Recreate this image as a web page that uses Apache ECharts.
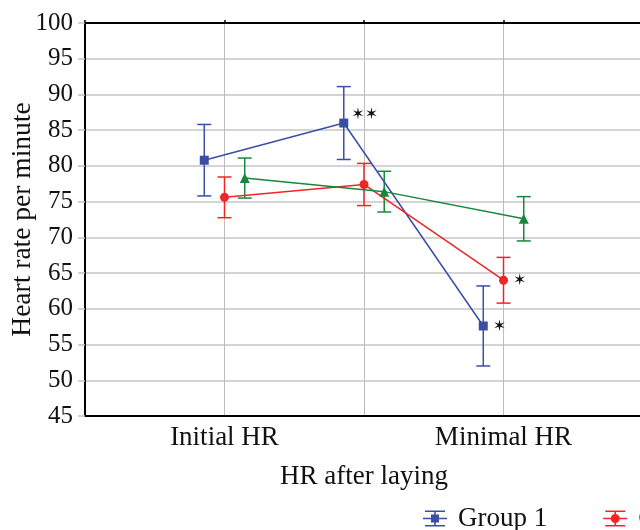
<!DOCTYPE html>
<html>
<head>
<meta charset="utf-8">
<script src="https://cdn.jsdelivr.net/npm/echarts@6/dist/echarts.min.js"></script>
<style>html,body{margin:0;padding:0;background:#fff;}#c{width:640px;height:530px;}</style>
</head>
<body>
<div id="c"></div>
<script>
var categories = ['Initial HR', 'HR after laying', 'Minimal HR'];
var groupNames = ['Group 1', 'Group 2', 'Group 3'];
var group1Mean = [80.8, 86.0, 57.6];
var group1Err  = [5.0, 5.1, 5.6];
var group2Mean = [75.6, 77.4, 64.0];
var group2Err  = [2.85, 2.95, 3.2];
var group3Mean = [78.3, 76.4, 72.6];
var group3Err  = [2.8, 2.85, 3.1];
var group1Marks = ['', '**', '*'];
var group2Marks = ['', '', '*'];
var group3Marks = ['', '', ''];
var yTicks = [45, 50, 55, 60, 65, 70, 75, 80, 85, 90, 95, 100];

var FONT = 'Liberation Serif';
var colors = ['#3a4ea6', '#ee2626', '#17873f'];
var symbols = ['rect', 'circle', 'triangle'];
var offsets = [-0.145, 0, 0.145];
var means = [group1Mean, group2Mean, group3Mean];
var errs = [group1Err, group2Err, group3Err];
var marks = [group1Marks, group2Marks, group3Marks];

function rectPath(x0, y0, x1, y1) {
  return 'M' + x0 + ' ' + y0 + 'L' + x1 + ' ' + y0 + 'L' + x1 + ' ' + y1 + 'L' + x0 + ' ' + y1 + 'Z';
}
var baseIcon = rectPath(0, 7.2, 24, 8.8) + rectPath(2, 0, 22, 1.5) + rectPath(2, 14.5, 22, 16) + rectPath(11.2, 0, 12.8, 16);
var icons = [
  'path://' + baseIcon + rectPath(8, 4, 16, 12),
  'path://' + baseIcon + 'M16.5 8A4.5 4.5 0 1 1 7.5 8A4.5 4.5 0 1 1 16.5 8Z',
  'path://' + baseIcon + 'M12 3L16.5 11.5L7.5 11.5Z'
];

var series = [];
for (var g = 0; g < 3; g++) {
  (function (g) {
    var lineData = [], errData = [];
    for (var i = 0; i < categories.length; i++) {
      var x = i + 1 + offsets[g];
      var m = marks[g][i];
      var item = { value: [x, means[g][i]] };
      if (m) {
        item.label = {
          show: true, position: 'right', distance: m.length > 1 ? 3 : 5,
          offset: m.length > 1 ? [0, -8] : [0, 1],
          formatter: m.replace(/\*/g, '\u2736'),
          fontFamily: 'DejaVu Sans', fontSize: 16, color: '#111'
        };
      }
      lineData.push(item);
      errData.push([x, means[g][i] - errs[g][i], means[g][i] + errs[g][i]]);
    }
    series.push({
      name: groupNames[g], type: 'custom', xAxisIndex: 0, yAxisIndex: 0, z: 3,
      data: errData, encode: { x: 0, y: [1, 2] },
      renderItem: function (params, api) {
        var x = api.value(0);
        var lo = api.coord([x, api.value(1)]);
        var hi = api.coord([x, api.value(2)]);
        var hw = 7;
        var st = { stroke: colors[g], lineWidth: 1.5 };
        return {
          type: 'group', children: [
            { type: 'line', shape: { x1: lo[0], y1: lo[1], x2: hi[0], y2: hi[1] }, style: st },
            { type: 'line', shape: { x1: hi[0] - hw, y1: hi[1], x2: hi[0] + hw, y2: hi[1] }, style: st },
            { type: 'line', shape: { x1: lo[0] - hw, y1: lo[1], x2: lo[0] + hw, y2: lo[1] }, style: st }
          ]
        };
      }
    });
    series.push({
      name: groupNames[g], type: 'line', z: 4,
      data: lineData,
      symbol: symbols[g], symbolSize: g === 2 ? 10 : 9,
      showSymbol: true,
      lineStyle: { color: colors[g], width: 1.5 },
      itemStyle: { color: colors[g] },
      label: { show: false },
      animation: false
    });
  })(g);
}

var chart = echarts.init(document.getElementById('c'));
chart.setOption({
  animation: false,
  backgroundColor: '#fff',
  grid: { left: 85, right: -3, top: 23, bottom: 114, containLabel: false, outerBoundsMode: 'none' },
  legend: {
    left: 418, top: 500, width: 900, itemWidth: 24, itemHeight: 16, itemGap: 56,
    textStyle: { fontFamily: FONT, fontSize: 27, color: '#111', padding: [0, 0, 0, 6] },
    data: groupNames.map(function (n, i) { return { name: n, icon: icons[i], itemStyle: { color: colors[i] } }; })
  },
  xAxis: [{
    type: 'value', min: 0, max: 4, interval: 1, position: 'bottom',
    axisLine: { show: true, onZero: false, lineStyle: { color: '#000', width: 2 } },
    axisTick: { show: false },
    splitLine: { show: true, lineStyle: { color: '#bcbcbc', width: 1 } },
    axisLabel: {
      margin: 2, fontFamily: FONT, fontSize: 27, color: '#111', lineHeight: 39,
      formatter: function (v) {
        var i = Math.round(v) - 1;
        if (i < 0 || i >= categories.length) return '';
        return (i % 2 === 1 ? '\n' : '') + categories[i];
      }
    }
  }, {
    type: 'value', min: 0, max: 4, interval: 1, position: 'top',
    axisLine: { show: true, onZero: false, lineStyle: { color: '#000', width: 2 } },
    axisTick: { show: true, length: 3, inside: false, lineStyle: { color: '#000', width: 1.5 } },
    axisLabel: { show: false }, splitLine: { show: false }
  }],
  yAxis: {
    type: 'value', min: yTicks[0], max: yTicks[yTicks.length - 1], interval: 5,
    name: 'Heart rate per minute', nameLocation: 'middle', nameGap: 48, nameMoveOverlap: false,
    nameTextStyle: { fontFamily: FONT, fontSize: 27.5, color: '#111' },
    axisLine: { show: true, onZero: false, lineStyle: { color: '#000', width: 2 } },
    axisTick: { show: true, length: 7, lineStyle: { color: '#c4c4c4', width: 1.5 } },
    splitLine: { show: true, lineStyle: { color: '#d4d4d4', width: 2 } },
    axisLabel: { margin: 12, fontFamily: FONT, fontSize: 25, color: '#111' }
  },
  series: series
});
</script>
</body>
</html>
